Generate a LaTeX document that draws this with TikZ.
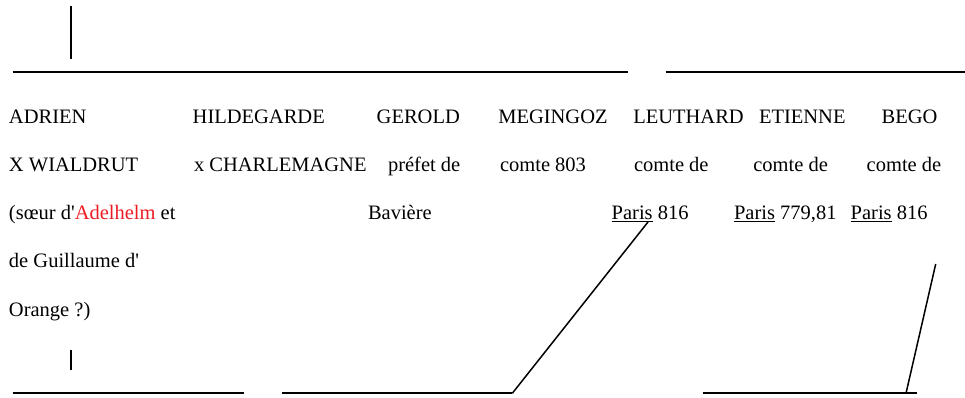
\documentclass[tikz,border=0pt]{standalone}
\usepackage{fontspec}
\setmainfont{Liberation Serif}
\definecolor{adel}{RGB}{237,28,36}
\begin{document}
\begin{tikzpicture}[x=1pt,y=-1pt,
  txt/.style={anchor=base west,inner sep=0pt,outer sep=0pt,font=\fontsize{20.5}{24}\selectfont},
  rule/.style={line width=1.8pt},
  slant/.style={line width=1.5pt}]
\useasboundingbox (0,0) rectangle (965,398);
% row 1
\node[txt] (adrien) at (9,123.3) {ADRIEN};
\node[txt] (hild) at (192.7,123.3) {HILDEGARDE};
\node[txt] (gerold) at (376.7,123.3) {GEROLD};
\node[txt] (meg) at (498.3,123.3) {MEGINGOZ};
\node[txt] (leut) at (633.3,123.3) {LEUTHARD};
\node[txt] (etienne) at (759,123.3) {ETIENNE};
\node[txt] (bego) at (881.7,123.3) {BEGO};
% row 2
\node[txt] (wial) at (9,171.6) {X WIALDRUT};
\node[txt] (charl) at (194,171.6) {x CHARLEMAGNE};
\node[txt] (pref) at (388,171.6) {préfet de};
\node[txt] (c803) at (500,171.6) {comte 803};
\node[txt] (cl) at (634,171.6) {comte de};
\node[txt] (ce) at (753.3,171.6) {comte de};
\node[txt] (cb) at (866.7,171.6) {comte de};
% row 3
\node[txt] (soeur) at (9,219.2) {(sœur d\textquotesingle\textcolor{adel}{Adelhelm} et};
\node[txt] (bav) at (368,219.2) {Bavière};
\node[txt] (pl) at (611.7,219.2) {\underline{Paris} 816};
\node[txt] (pe) at (734,219.2) {\underline{Paris} 779,81};
\node[txt] (pb) at (850.7,219.2) {\underline{Paris} 816};
% rows 4-5
\node[txt] (guil) at (9,267.5) {de Guillaume d\textquotesingle};
\node[txt] (orange) at (9,316.3) {Orange ?)};
% coordinates
\coordinate (v1a) at (70.7,6);
\coordinate (v1b) at (70.7,59);
\coordinate (h1a) at (12.5,72);
\coordinate (h1b) at (628,72);
\coordinate (h2a) at (665.5,72);
\coordinate (h2b) at (965,72);
\coordinate (v2a) at (70.7,350);
\coordinate (v2b) at (70.7,370);
\coordinate (b1a) at (12.5,393.3);
\coordinate (b1b) at (244,393.3);
\coordinate (b2a) at (281.7,393.3);
\coordinate (b2b) at (512.3,393.3);
\coordinate (d1) at (648,222);
\coordinate (b3a) at (702.7,393.3);
\coordinate (b3b) at (916.5,393.3);
\coordinate (d2a) at (906,393.3);
\coordinate (d2b) at (935.7,264);
% lines
\draw[rule] (v1a) -- (v1b);
\draw[rule] (h1a) -- (h1b);
\draw[rule] (h2a) -- (h2b);
\draw[rule] (v2a) -- (v2b);
\draw[rule] (b1a) -- (b1b);
\draw[rule] (b2a) -- (b2b);
\draw[slant] (b2b) -- (d1);
\draw[rule] (b3a) -- (b3b);
\draw[slant] (d2a) -- (d2b);
\end{tikzpicture}
\end{document}
